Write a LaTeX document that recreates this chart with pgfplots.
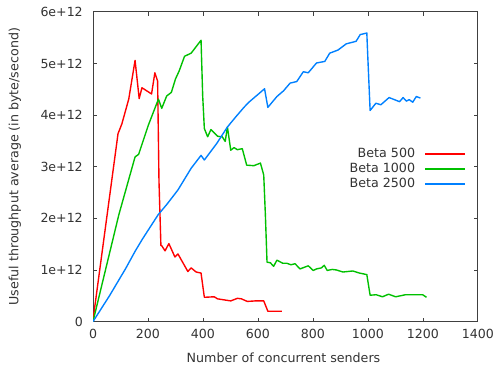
\documentclass[border=0pt]{standalone}
\usepackage{pgfplots}
\pgfplotsset{compat=1.18}
\usepackage{fontspec}
\setmainfont{DejaVu Sans}
\definecolor{gred}{HTML}{FF0000}
\definecolor{ggreen}{HTML}{00C000}
\definecolor{gblue}{HTML}{0080FF}
\definecolor{txt}{HTML}{333333}
\begin{document}
\fontsize{12.5bp}{15bp}\selectfont
\begin{tikzpicture}
\begin{axis}[
  scale only axis,
  width=389bp, height=313bp,
  xmin=0, xmax=1400, ymin=0, ymax=6,
  xtick={0,200,...,1400},
  ytick={0,1,2,3,4,5,6},
  yticklabels={0,1e+12,2e+12,3e+12,4e+12,5e+12,6e+12},
  scaled ticks=false,
  /pgf/number format/assume math mode=true,
  /pgf/number format/1000 sep={},
  tick align=inside,
  major tick length=4bp,
  axis line style={black!75, line width=0.8bp},
  every tick/.style={black!75, line width=0.8bp},
  tick label style={text=txt, font=\fontsize{12.7bp}{15bp}\selectfont},
  xticklabel style={yshift=-3bp},
  yticklabel style={xshift=-6bp},
  xlabel={Number of concurrent senders},
  ylabel={Useful throughput average (in byte/second)},
  label style={text=txt, font=\fontsize{12.8bp}{15bp}\selectfont},
  xlabel style={at={(axis description cs:0.495,-0.118)}, anchor=center},
  ylabel style={at={(axis description cs:-0.203,0.5)}, anchor=center},
  legend plot pos=right,
  legend cell align=right,
  legend image code/.code={\draw[#1] (0bp,0bp) -- (40bp,0bp);},
  legend style={draw=none, fill=none, at={(axis description cs:0.976,0.573)}, anchor=north east,
    column sep=8bp, row sep=0pt,
    nodes={inner sep=1.5bp, text height=9.5bp, text depth=2.8bp, text=txt, font=\fontsize{12.8bp}{15bp}\selectfont}},
  every axis plot/.append style={line width=1.4bp, line join=round},
]
\addplot[gred] coordinates {
(0,0) (3,0.15) (91,3.64) (105,3.83) (130,4.31) (153,5.06) (168,4.32) (178,4.53)
(213,4.41) (225,4.82) (235,4.66) (240,2.72) (247,1.47) (250,1.47) (262,1.37)
(276,1.51) (298,1.25) (309,1.31) (345,0.97) (357,1.04) (375,0.96) (393,0.94)
(405,0.47) (441,0.48) (453,0.44) (501,0.40) (525,0.45) (540,0.44) (561,0.39)
(590,0.40) (621,0.40) (636,0.20) (687,0.20)
};
\addlegendentry{Beta 500}
\addplot[ggreen] coordinates {
(0,0) (94,2.07) (153,3.19) (166,3.24) (201,3.80) (238,4.31) (250,4.13) (268,4.37)
(285,4.44) (300,4.70) (313,4.85) (333,5.14) (345,5.17) (357,5.20) (393,5.45) (399,4.37)
(405,3.74) (417,3.58) (429,3.72) (453,3.59) (470,3.58) (481,3.49) (489,3.77)
(501,3.32) (513,3.37) (525,3.33) (543,3.35) (559,3.03) (585,3.02) (609,3.07)
(621,2.84) (627,2.07) (633,1.15) (645,1.14) (657,1.07) (669,1.19) (690,1.13)
(705,1.13) (720,1.10) (735,1.12) (753,1.02) (783,1.08) (801,0.99) (813,1.02)
(831,1.04) (841,1.09) (852,0.99) (870,1.01) (885,1.00) (909,0.96) (945,0.98)
(969,0.94) (996,0.91) (1008,0.51) (1030,0.52) (1053,0.48) (1075,0.53) (1101,0.48)
(1137,0.52) (1165,0.52) (1199,0.52) (1213,0.47)
};
\addlegendentry{Beta 1000}
\addplot[gblue] coordinates {
(0,0) (60,0.50) (118,1.02) (153,1.36) (180,1.60) (237,2.07) (270,2.28) (309,2.55)
(357,2.97) (393,3.22) (405,3.13) (450,3.45) (489,3.77) (520,3.97) (549,4.15)
(567,4.25) (600,4.40) (624,4.51) (636,4.15) (669,4.36) (693,4.47) (717,4.62)
(741,4.65) (765,4.84) (783,4.82) (813,5.01) (843,5.04) (861,5.20) (891,5.26)
(921,5.38) (957,5.43) (972,5.56) (996,5.59) (999,5.20) (1008,4.09) (1029,4.23)
(1047,4.20) (1077,4.34) (1115,4.26) (1128,4.34) (1140,4.27) (1150,4.30)
(1163,4.25) (1176,4.36) (1191,4.33)
};
\addlegendentry{Beta 2500}
\coordinate (ll) at (rel axis cs:0,0);
\end{axis}
\path ([shift={(-94bp,-49bp)}]ll) rectangle ([shift={(404bp,325bp)}]ll);
\end{tikzpicture}
\end{document}
